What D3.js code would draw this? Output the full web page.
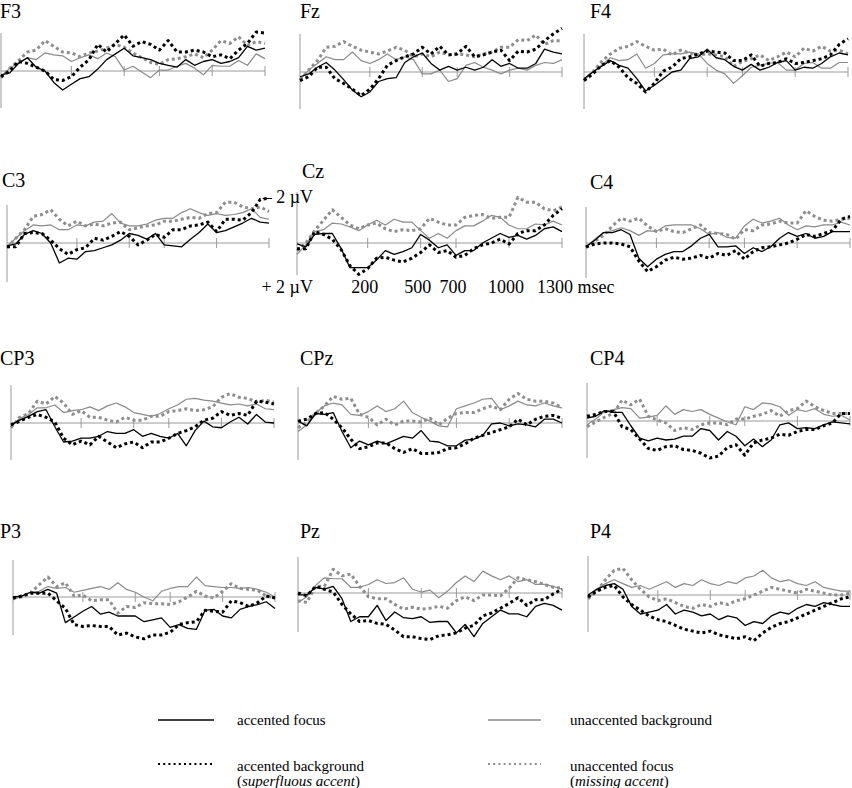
<!DOCTYPE html>
<html><head><meta charset="utf-8">
<script src="https://cdn.jsdelivr.net/npm/d3@7"></script>
<style>
html,body{margin:0;padding:0;background:#fff;}
svg{display:block;font-family:"Liberation Serif","Times New Roman",serif;}
</style></head><body>
<svg id="chart" width="852" height="788"></svg>
<script>
// ---- data (µV, negative plotted upward) ----
const times = [-200,-150,-100,-50,0,50,100,150,200,250,300,350,400,450,500,550,600,650,700,750,800,850,900,950,1000,1050,1100,1150,1200,1250,1300];
const tickValues = [200,500,700,1000,1300];
const tickLabels = ["200","500","700","1000","1300 msec"];
const channels = ["F3","Fz","F4","C3","Cz","C4","CP3","CPz","CP4","P3","Pz","P4"];
const conditionKeys = ["ub","uf","af","ab"];
const legendLabels = {af:"accented focus", ub:"unaccented background", ab:"accented background", uf:"unaccented focus"};
const legendNotes = {ab:"superfluous accent", uf:"missing accent"};

const F3_af = [0.2,0.1,-0.4,-0.7,-0.2,0.0,0.6,1.0,0.7,0.4,0.3,-0.1,-0.6,-0.9,-1.2,-0.8,-0.7,-0.6,-0.4,-0.3,-0.2,-0.6,-0.3,-0.5,-0.6,-0.4,-0.5,-0.7,-1.3,-1.1,-1.2];
const F3_ab = [0.3,0.0,-0.5,-0.4,-0.2,0.0,0.45,0.5,0.3,-0.2,-0.6,-1.4,-1.0,-1.45,-1.9,-1.3,-1.55,-1.4,-1.1,-1.6,-1.0,-1.0,-1.1,-1.0,-0.75,-0.85,-0.65,-1.1,-1.45,-2.05,-2.0];
const F3_ub = [0.3,-0.15,-0.45,-0.7,-0.6,-0.95,-0.85,-0.8,-0.5,-0.7,-0.85,-0.65,-0.95,-0.75,-0.05,-0.25,0.05,0.35,-0.05,-0.05,-0.25,-0.4,-0.15,0.2,-0.3,-0.25,-0.25,-0.55,-0.3,-0.9,-0.65];
const F3_uf = [0.35,-0.15,-0.55,-1.0,-1.1,-1.6,-1.3,-1.0,-0.95,-0.75,-0.95,-1.05,-1.2,-1.4,-1.25,-0.95,-0.7,-0.45,-0.35,-0.6,-0.65,-0.75,-0.9,-0.7,-1.1,-1.6,-1.45,-1.8,-1.35,-1.55,-1.45];

const Fz_af = [0.25,0.1,-0.25,-0.5,-0.1,0.4,0.95,1.3,1.05,0.5,0.35,0.3,-0.5,-0.8,-1.0,-0.45,-0.1,-0.3,-0.1,-0.25,-0.1,-0.25,-0.65,-0.3,-0.45,-0.2,-0.2,-0.45,-1.2,-1.05,-0.95];
const Fz_ab = [0.45,0.25,-0.25,-0.25,0.35,0.6,0.9,1.25,0.9,0.35,-0.35,-0.6,-0.8,-0.95,-1.3,-0.95,-1.35,-0.9,-0.95,-1.35,-0.8,-0.9,-1.05,-1.15,-0.6,-1.1,-1.05,-1.2,-1.65,-2.0,-2.3];
const Fz_ub = [0.4,-0.1,-0.45,-0.8,-0.65,-0.65,-1.05,-0.6,-0.45,-0.65,-0.95,-0.65,-0.8,-0.65,0.1,0.1,-0.1,0.5,0.35,-0.35,-0.5,-0.25,-0.1,0.1,-0.1,-0.2,-0.1,-0.35,-0.5,-0.45,-0.65];
const Fz_uf = [0.4,-0.1,-0.6,-1.3,-1.35,-1.6,-1.35,-1.15,-1.05,-0.95,-1.1,-1.3,-1.15,-0.8,-0.95,-0.8,-1.05,-0.9,-0.95,-0.9,-0.8,-0.95,-1.05,-1.3,-1.3,-1.7,-1.65,-1.95,-1.45,-1.65,-1.65];

const F4_af = [0.35,0.0,-0.3,-0.6,-0.35,-0.2,0.35,1.0,0.7,0.35,0.0,-0.1,-0.7,-0.8,-1.2,-0.75,-0.65,-0.3,-0.1,-0.4,-0.1,-0.25,-0.5,-0.6,-0.1,-0.25,-0.2,-0.45,-0.8,-1.0,-0.9];
const F4_ab = [0.45,0.1,-0.35,-0.6,-0.25,0.3,0.6,1.05,0.6,-0.05,-0.25,-0.7,-0.8,-0.95,-1.1,-1.05,-1.0,-0.6,-0.6,-0.9,-0.3,-0.45,-0.5,-0.7,-0.45,-0.5,-0.6,-0.7,-0.9,-1.45,-1.75];
const F4_ub = [0.45,0.0,-0.35,-0.75,-0.6,-0.65,-0.95,-0.2,-0.45,-0.9,-0.95,-0.95,-1.05,-0.95,-0.45,-0.1,0.1,0.6,0.2,-0.25,-0.35,-0.45,-0.5,-0.1,-0.1,-0.45,-0.5,-0.2,-0.2,-0.5,-0.5];
const F4_uf = [0.45,0.0,-0.55,-0.95,-1.25,-1.35,-1.6,-1.35,-1.15,-1.2,-0.9,-1.15,-1.0,-0.9,-0.95,-0.9,-0.8,-0.3,-0.55,-0.7,-0.9,-0.6,-0.8,-1.05,-0.8,-1.25,-1.1,-1.35,-1.1,-1.15,-0.95];

const C3_af = [0.15,0.05,-0.45,-0.65,-0.5,0.0,1.05,0.8,0.85,0.45,0.4,0.25,0.1,-0.15,-0.5,-0.4,-0.2,-0.5,0.1,0.15,0.2,-0.2,-0.55,-1.0,-0.55,-0.65,-0.85,-1.05,-1.3,-1.1,-1.05];
const C3_ab = [0.2,0.2,-0.5,-0.55,-0.5,-0.15,0.3,0.6,0.35,0.25,-0.25,-0.15,-0.35,-0.6,-0.35,0.1,-0.15,-0.45,-0.3,-0.7,-0.7,-0.9,-0.95,-1.1,-0.6,-1.25,-1.25,-1.2,-1.6,-2.3,-2.35];
const C3_ub = [0.2,-0.25,-0.65,-0.95,-0.9,-0.95,-0.7,-0.7,-0.95,-0.9,-1.1,-1.15,-1.55,-1.05,-0.9,-0.9,-1.0,-1.2,-1.3,-1.3,-1.6,-1.8,-1.6,-1.45,-1.55,-1.45,-1.5,-1.6,-1.8,-1.35,-1.25];
const C3_uf = [0.25,-0.25,-0.7,-1.4,-1.5,-1.75,-1.25,-0.9,-1.15,-0.9,-1.0,-0.9,-1.05,-1.1,-0.7,-0.8,-0.9,-0.95,-1.15,-1.15,-1.25,-1.35,-1.3,-1.55,-1.6,-2.15,-2.15,-1.9,-1.8,-1.9,-1.65];

const Cz_af = [0.05,0.2,-0.45,-0.5,-0.5,0.3,1.3,1.3,1.3,0.9,0.4,0.6,0.45,0.25,-0.45,-0.15,0.25,0.1,0.65,0.4,0.4,0.0,-0.25,-0.5,-0.3,-0.4,-0.2,-0.4,-0.75,-0.85,-0.6];
const Cz_ab = [0.3,0.3,-0.6,-0.45,-0.2,0.35,1.2,1.65,1.35,0.8,0.75,0.9,1.0,0.8,0.5,0.1,0.5,0.4,0.75,0.65,0.3,0.1,0.0,-0.2,0.05,-0.5,-0.65,-0.65,-0.95,-1.45,-1.8];
const Cz_ub = [0.6,0.1,-0.6,-0.7,-1.05,-1.0,-0.85,-0.65,-0.95,-1.2,-0.95,-1.25,-1.1,-1.1,-0.65,-0.25,-0.5,-0.25,-0.65,-0.9,-0.9,-1.15,-1.45,-1.35,-0.95,-0.75,-0.75,-1.0,-0.95,-1.15,-0.95];
const Cz_uf = [0.4,0.0,-0.65,-1.2,-1.75,-1.35,-0.95,-0.75,-0.95,-1.05,-0.75,-0.6,-0.7,-0.65,-0.75,-1.3,-1.1,-0.95,-0.95,-1.35,-1.45,-1.5,-1.3,-1.35,-1.35,-2.4,-2.15,-2.15,-1.8,-1.7,-1.9];

const C4_af = [0.2,-0.15,-0.55,-0.55,-0.7,-0.45,0.8,1.25,0.85,0.6,0.45,0.45,0.15,-0.25,-0.45,0.2,0.2,0.15,0.55,0.25,0.45,0.2,-0.25,-0.55,-0.35,-0.5,-0.25,-0.35,-0.6,-0.6,-0.6];
const C4_ab = [0.2,0.05,0.0,0.0,0.05,0.2,0.95,1.5,1.25,0.9,0.75,0.85,0.8,0.65,0.8,0.55,0.65,0.4,0.85,0.45,0.25,0.2,0.1,0.0,-0.2,-0.45,-0.35,-0.5,-0.65,-1.25,-1.4];
const C4_ub = [0.2,-0.2,-0.55,-0.65,-0.8,-0.65,-0.4,-0.65,-0.6,-0.9,-0.95,-0.95,-0.95,-0.75,-0.45,-0.55,-0.3,-0.25,-0.9,-1.25,-1.05,-1.15,-1.3,-0.95,-0.7,-0.9,-0.85,-0.95,-0.95,-1.1,-0.95];
const C4_uf = [0.25,-0.1,-0.4,-0.9,-1.3,-1.15,-1.3,-0.9,-0.6,-0.75,-0.6,-0.55,-0.75,-0.95,-0.55,-0.5,-0.45,-0.2,-0.7,-0.65,-0.95,-1.0,-1.15,-1.05,-1.05,-1.7,-1.4,-1.2,-1.15,-1.25,-1.3];

const CP3_af = [0.1,-0.15,-0.35,-0.6,-0.7,0.2,1.0,0.95,0.8,0.8,0.7,0.45,0.55,0.55,0.35,0.7,0.55,0.7,0.8,0.55,1.2,0.4,-0.1,0.2,0.25,-0.05,-0.3,0.05,-0.45,-0.05,0.0];
const CP3_ab = [0.1,-0.1,-0.3,-0.45,-0.3,-0.05,0.8,1.15,0.95,1.15,0.7,1.0,1.3,1.1,1.0,1.3,1.0,1.0,0.8,0.55,0.4,0.2,-0.15,-0.25,-0.6,-0.4,-0.5,-0.4,-1.15,-1.1,-1.0];
const CP3_ub = [0.2,-0.25,-0.45,-0.8,-0.8,-0.95,-0.55,-0.65,-0.7,-0.85,-0.65,-0.9,-1.05,-0.85,-0.55,-0.45,-0.35,-0.5,-0.75,-0.95,-1.25,-1.3,-1.2,-1.15,-1.05,-0.95,-1.0,-0.9,-1.0,-0.75,-0.7];
const CP3_uf = [0.25,-0.3,-0.5,-1.15,-1.0,-1.4,-1.05,-0.45,-0.65,-0.3,-0.3,-0.15,-0.05,-0.3,-0.15,-0.15,-0.35,-0.35,-0.6,-0.65,-0.75,-0.65,-0.7,-0.85,-1.35,-1.55,-1.35,-1.3,-1.1,-1.2,-1.1];

const CPz_af = [-0.1,0.15,-0.5,-0.45,-0.55,0.45,1.3,0.95,1.15,0.95,1.1,0.9,0.7,0.8,0.4,0.95,1.0,1.2,1.2,0.9,0.85,0.65,0.05,0.0,0.15,0.05,0.1,0.2,-0.2,-0.2,0.0];
const CPz_ab = [-0.1,-0.2,-0.5,-0.55,-0.2,0.25,0.85,1.35,1.25,1.05,1.05,1.35,1.55,1.35,1.6,1.6,1.55,1.35,1.3,1.1,0.8,0.65,0.5,0.35,0.2,-0.2,0.1,-0.2,-0.35,-0.4,-0.25];
const CPz_ub = [0.45,0.1,-0.55,-0.9,-1.05,-0.95,-0.45,-0.4,-0.6,-0.9,-0.6,-0.75,-1.15,-0.55,-0.3,-0.1,0.15,0.2,-0.75,-0.9,-1.05,-1.25,-1.3,-0.7,-0.9,-1.15,-0.95,-0.9,-1.05,-0.9,-0.8];
const CPz_uf = [0.25,-0.05,-0.5,-0.9,-1.4,-1.25,-1.3,-0.45,-0.3,0.1,-0.2,0.1,-0.1,-0.1,-0.05,-0.25,0.1,-0.25,-0.5,-0.55,-0.55,-0.75,-0.9,-0.7,-1.25,-1.55,-1.25,-1.15,-1.15,-1.05,-0.8];

const CP4_af = [-0.15,-0.25,-0.55,-0.45,-0.45,0.25,0.9,1.05,0.9,1.0,0.95,0.8,0.8,0.4,0.5,1.0,0.55,0.8,1.3,0.95,1.35,1.0,0.2,0.1,0.4,0.35,0.4,0.2,0.05,0.1,0.15];
const CP4_ab = [-0.25,-0.35,-0.5,-0.5,0.3,0.45,0.95,1.45,1.55,1.35,1.3,1.5,1.55,1.7,1.95,1.85,1.4,1.25,1.8,1.15,1.0,0.9,0.7,0.75,0.55,0.45,0.45,0.25,0.1,-0.4,-0.4];
const CP4_ub = [0.2,-0.1,-0.5,-0.6,-0.7,-0.65,-0.15,-0.2,-0.3,-0.8,-0.35,-0.6,-0.5,-0.6,-0.35,-0.15,0.05,0.2,-0.75,-0.6,-0.95,-0.9,-0.75,-0.3,-0.6,-0.5,-0.65,-0.35,-0.25,-0.3,-0.05];
const CP4_uf = [0.3,0.05,-0.2,-0.4,-1.1,-0.85,-1.15,-0.25,-0.05,0.1,0.5,0.35,0.45,0.2,0.1,0.1,0.2,-0.1,-0.1,-0.25,-0.35,-0.55,-0.25,-0.55,-0.65,-1.05,-0.75,-0.55,-0.4,-0.4,-0.4];

const P3_af = [0.0,-0.05,-0.25,-0.2,-0.4,-0.2,1.35,1.05,0.75,0.5,0.9,0.8,1.0,1.0,1.0,1.3,1.2,1.1,1.6,1.45,1.65,1.7,0.7,0.65,1.0,1.1,0.65,0.5,0.4,0.25,0.6];
const P3_ab = [0.05,-0.05,-0.2,-0.2,-0.2,0.2,0.6,1.45,1.55,1.5,1.55,1.55,2.0,1.9,2.1,2.2,2.0,2.0,1.85,1.45,1.35,1.3,0.7,0.75,0.8,0.2,0.3,0.5,0.3,-0.05,0.05];
const P3_ub = [0.15,-0.05,-0.25,-0.3,-0.55,-0.45,-0.5,-0.25,-0.35,-0.45,-0.55,-0.4,-0.75,-0.4,-0.25,0.0,0.2,-0.3,-0.45,-0.55,-0.55,-1.05,-0.6,-0.55,-0.5,-0.5,-0.45,-0.5,-0.4,-0.25,0.0];
const P3_uf = [0.05,0.0,-0.2,-0.65,-1.05,-0.55,-0.75,-0.05,-0.1,0.2,0.15,0.15,0.85,0.5,0.55,0.3,0.35,0.35,0.4,0.25,0.0,-0.3,-0.05,0.05,-0.3,-0.7,-0.45,-0.4,-0.35,-0.05,0.05];

const Pz_af = [0.1,0.1,-0.3,-0.2,-0.35,0.3,1.5,1.25,1.25,0.65,1.45,1.0,1.3,1.35,1.25,1.55,1.5,1.5,2.1,1.65,2.3,1.6,1.25,0.9,1.1,1.1,1.25,0.7,0.55,0.65,0.9];
const Pz_ab = [0.0,0.15,-0.35,-0.2,-0.05,0.6,1.1,1.5,1.45,1.6,1.65,1.95,2.3,2.3,2.4,2.45,2.25,2.2,2.1,1.85,1.7,1.2,1.05,0.8,0.55,0.25,0.65,0.35,0.35,0.05,-0.2];
const Pz_ub = [0.5,0.2,-0.4,-0.8,-0.75,-0.75,-0.3,-0.3,-0.45,-0.7,-0.5,-0.55,-0.8,-0.2,-0.05,-0.15,0.25,-0.1,-0.55,-0.9,-0.6,-1.15,-0.9,-0.7,-0.9,-0.6,-0.7,-0.45,-0.45,-0.35,-0.2];
const Pz_uf = [0.4,0.5,-0.35,-0.35,-1.25,-0.9,-1.0,-0.35,0.2,0.3,0.3,0.6,0.85,0.75,0.85,0.8,0.7,0.8,0.4,0.2,0.4,0.1,0.1,0.15,-0.25,-0.8,-0.7,-0.6,-0.45,-0.3,-0.25];

const P4_af = [0.0,-0.3,-0.5,-0.6,-0.3,0.6,1.0,0.9,0.8,0.5,1.0,0.8,0.9,1.1,1.0,1.3,1.1,1.2,1.6,1.4,1.5,1.1,0.9,1.0,0.7,0.5,0.6,0.4,0.5,0.6,0.6];
const P4_ab = [0.1,-0.2,-0.4,-0.5,0.1,0.5,0.8,1.1,1.3,1.4,1.6,1.8,1.9,2.0,1.9,2.1,2.2,2.3,2.2,2.4,2.0,1.7,1.5,1.4,1.2,1.0,0.8,0.6,0.4,0.2,0.1];
const P4_ub = [0.2,-0.3,-0.6,-0.8,-0.6,-0.4,-0.5,-0.3,-0.5,-0.7,-0.4,-0.6,-0.5,-0.8,-0.6,-0.5,-0.7,-0.6,-0.9,-1.0,-1.3,-0.9,-0.7,-0.8,-0.6,-0.5,-0.7,-0.4,-0.3,-0.2,-0.2];
const P4_uf = [0.2,-0.2,-0.8,-1.3,-1.4,-0.8,-0.3,0.1,0.3,0.2,0.4,0.6,0.7,0.5,0.6,0.4,0.5,0.3,0.2,0.0,-0.2,-0.4,-0.3,-0.2,-0.1,-0.3,-0.2,-0.1,0.0,0.0,-0.1];

const series = {
  F3:{af:F3_af,ab:F3_ab,ub:F3_ub,uf:F3_uf}, Fz:{af:Fz_af,ab:Fz_ab,ub:Fz_ub,uf:Fz_uf}, F4:{af:F4_af,ab:F4_ab,ub:F4_ub,uf:F4_uf},
  C3:{af:C3_af,ab:C3_ab,ub:C3_ub,uf:C3_uf}, Cz:{af:Cz_af,ab:Cz_ab,ub:Cz_ub,uf:Cz_uf}, C4:{af:C4_af,ab:C4_ab,ub:C4_ub,uf:C4_uf},
  CP3:{af:CP3_af,ab:CP3_ab,ub:CP3_ub,uf:CP3_uf}, CPz:{af:CPz_af,ab:CPz_ab,ub:CPz_ub,uf:CPz_uf}, CP4:{af:CP4_af,ab:CP4_ab,ub:CP4_ub,uf:CP4_uf},
  P3:{af:P3_af,ab:P3_ab,ub:P3_ub,uf:P3_uf}, Pz:{af:Pz_af,ab:Pz_ab,ub:Pz_ub,uf:Pz_uf}, P4:{af:P4_af,ab:P4_ab,ub:P4_ub,uf:P4_uf}
};

// ---- layout (positions in px) ----
const layout = {
  F3:{x0:1,x1:265,base:71,top:33,bot:108,lx:0,ly:18},
  Fz:{x0:300,x1:562,base:72,top:34,bot:109,lx:300,ly:18},
  F4:{x0:584,x1:848,base:72,top:34,bot:109,lx:590,ly:18},
  C3:{x0:7,x1:269,base:243,top:205,bot:282,lx:2,ly:187},
  Cz:{x0:297,x1:562,base:243,top:192,bot:275,lx:302,ly:178},
  C4:{x0:586,x1:850,base:243,top:207,bot:278,lx:590,ly:189},
  CP3:{x0:11,x1:274,base:423,top:385,bot:460,lx:0,ly:365},
  CPz:{x0:298,x1:562,base:423,top:387,bot:460,lx:300,ly:365},
  CP4:{x0:587,x1:850,base:421,top:383,bot:458,lx:590,ly:365},
  P3:{x0:13,x1:275,base:597,top:560,bot:635,lx:0,ly:538},
  Pz:{x0:298,x1:562,base:593,top:557,bot:632,lx:300,ly:538},
  P4:{x0:588,x1:850,base:595,top:556,bot:632,lx:590,ly:538}
};
const styles = {
  ub:{stroke:"#8a8a8a", width:1.2, dash:null},
  uf:{stroke:"#8e8e8e", width:3, dash:"3,3"},
  af:{stroke:"#000", width:1.3, dash:null},
  ab:{stroke:"#000", width:3, dash:"3,3"}
};
const axisColor = "#9a9a9a";

const svg = d3.select("#chart");

channels.forEach(ch => {
  const L = layout[ch];
  const x = d3.scaleLinear().domain([times[0], times[times.length-1]]).range([L.x0, L.x1]);
  const y = d3.scaleLinear().domain([-2, 2]).range([L.base - 38, L.base + 38]);
  const g = svg.append("g").attr("class", "panel " + ch);

  // label
  g.append("text").attr("x", L.lx).attr("y", L.ly).attr("font-size", 20).attr("fill", "#000").text(ch);

  // axes
  g.append("line").attr("x1", L.x0).attr("x2", L.x0).attr("y1", L.top).attr("y2", L.bot)
    .attr("stroke", axisColor).attr("stroke-width", 1);
  g.append("line").attr("x1", L.x0).attr("x2", L.x1).attr("y1", L.base).attr("y2", L.base)
    .attr("stroke", axisColor).attr("stroke-width", 1);
  g.selectAll("line.tick").data(tickValues).join("line").attr("class", "tick")
    .attr("x1", d => x(d)).attr("x2", d => x(d))
    .attr("y1", L.base - 5).attr("y2", L.base + 5)
    .attr("stroke", axisColor).attr("stroke-width", 1);

  // traces
  conditionKeys.forEach(k => {
    const vals = series[ch][k];
    const st = styles[k];
    const line = d3.line().x((d, i) => x(times[i])).y(d => y(d)).curve(d3.curveLinear);
    g.append("path").datum(vals).attr("d", line)
      .attr("fill", "none").attr("stroke", st.stroke).attr("stroke-width", st.width)
      .attr("stroke-dasharray", st.dash).attr("stroke-linejoin", "round");
  });

  // axis annotations on Cz
  if (ch === "Cz") {
    const lab = svg.append("g").attr("font-size", 18).attr("fill", "#000");
    tickValues.forEach((t, i) => {
      const last = i === tickValues.length - 1;
      lab.append("text").attr("x", last ? x(t) - 25 : x(t) - 3).attr("y", 293)
        .attr("text-anchor", last ? "start" : "middle").text(tickLabels[i]);
    });
    lab.append("text").attr("x", 313).attr("y", 203).attr("text-anchor", "end").text("\u2013 2 \u00b5V");
    lab.append("text").attr("x", 313).attr("y", 293).attr("text-anchor", "end").text("+ 2 \u00b5V");
  }
});

// ---- legend ----
const legendItems = [
  {k:"af", x1:158, x2:214, ly:720, tx:237, ty:725},
  {k:"ub", x1:488, x2:541, ly:720, tx:570, ty:725},
  {k:"ab", x1:158, x2:214, ly:764, tx:237, ty:771},
  {k:"uf", x1:488, x2:541, ly:764, tx:570, ty:771}
];
const lg = svg.append("g").attr("font-size", 15).attr("fill", "#000");
legendItems.forEach(it => {
  const st = styles[it.k];
  const dotted = st.dash !== null;
  lg.append("line").attr("x1", it.x1).attr("x2", it.x2).attr("y1", it.ly).attr("y2", it.ly)
    .attr("stroke", st.stroke).attr("stroke-width", dotted ? 2 : 1.3)
    .attr("stroke-dasharray", dotted ? "2,3.2" : null);
  lg.append("text").attr("x", it.tx).attr("y", it.ty).text(legendLabels[it.k]);
  if (legendNotes[it.k]) {
    const t = lg.append("text").attr("x", it.tx).attr("y", it.ty + 15);
    t.append("tspan").text("(");
    t.append("tspan").attr("font-style", "italic").text(legendNotes[it.k]);
    t.append("tspan").text(")");
  }
});
</script>
</body></html>
